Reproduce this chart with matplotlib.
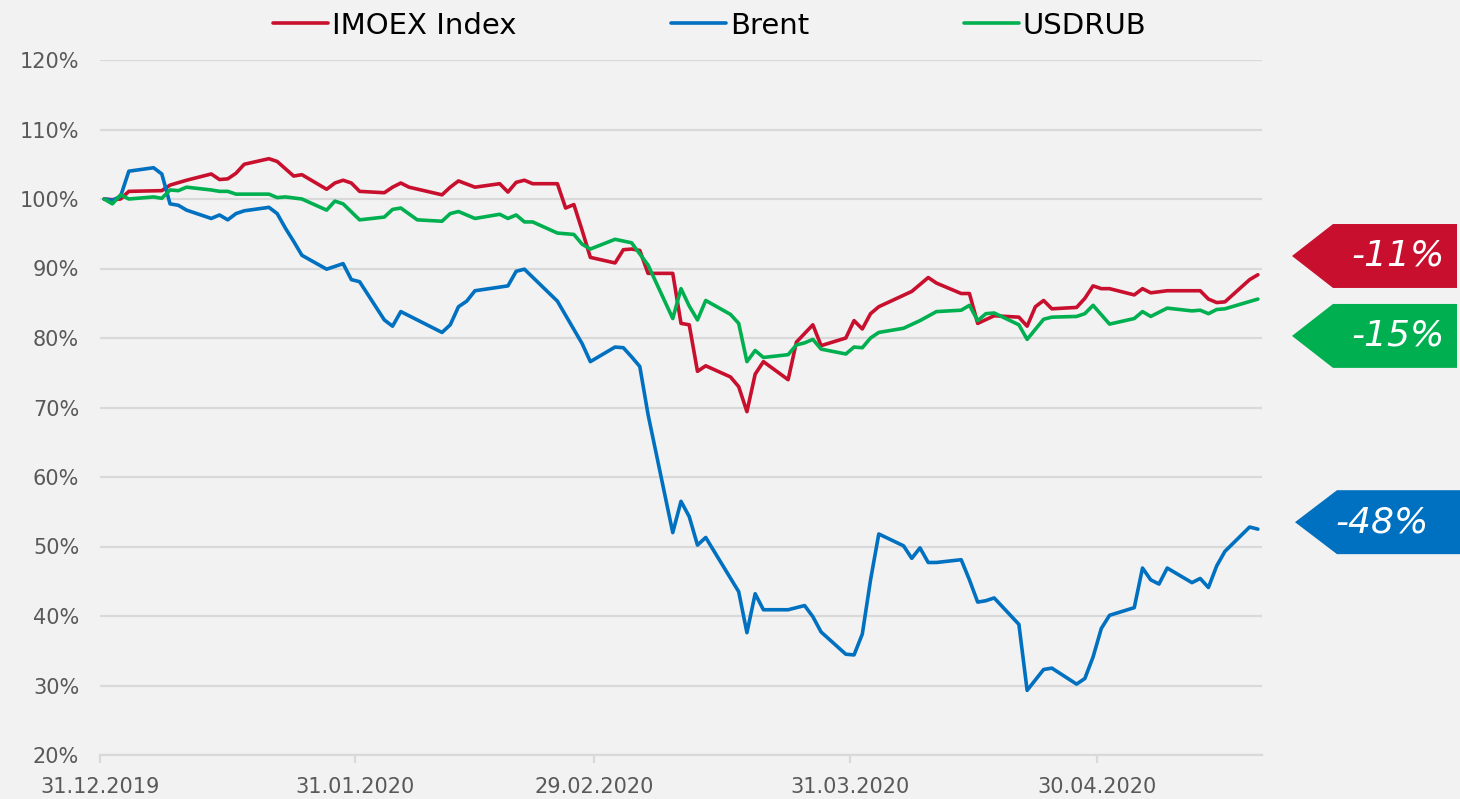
import matplotlib
matplotlib.use("Agg")
import matplotlib.pyplot as plt
import matplotlib.dates as mdates
from matplotlib.patches import Polygon
from matplotlib.transforms import blended_transform_factory
from matplotlib.ticker import FuncFormatter
import pandas as pd

# Data: days counted from 31.12.2019, values in % of the starting level
start = pd.Timestamp("2019-12-31")
end = pd.Timestamp("2020-05-20")
tick_dates = ["2019-12-31", "2020-01-31", "2020-02-29", "2020-03-31", "2020-04-30"]
y_ticks = [20, 30, 40, 50, 60, 70, 80, 90, 100, 110, 120]

imoex_days = [0, 1, 2, 3, 7, 8, 10, 13, 14, 15, 16, 17, 20, 21, 23, 24, 27, 28, 29, 30,
              31, 34, 35, 36, 37, 41, 42, 43, 45, 48, 49, 50, 51, 52, 55, 56, 57, 58, 59,
              62, 63, 64, 65, 66, 69, 70, 71, 72, 73, 76, 77, 78, 79, 80, 83, 84, 86, 87,
              90, 91, 92, 93, 94, 98, 100, 101, 104, 105, 106, 108, 111, 112, 113, 114,
              115, 118, 119, 120, 121, 122, 125, 126, 127, 129, 133, 134, 135, 136, 139, 140]
imoex_vals = [100.0, 99.9, 100.0, 101.1, 101.2, 102.0, 102.7, 103.6, 102.8, 102.9, 103.7,
              105.0, 105.8, 105.4, 103.3, 103.5, 101.4, 102.3, 102.7, 102.3, 101.1, 100.9,
              101.7, 102.3, 101.7, 100.6, 101.7, 102.6, 101.7, 102.2, 101.0, 102.4, 102.7,
              102.2, 102.2, 98.7, 99.2, 95.5, 91.6, 90.8, 92.7, 92.8, 92.6, 89.3, 89.3,
              82.1, 81.9, 75.2, 76.0, 74.4, 73.0, 69.4, 74.8, 76.6, 74.0, 79.4, 81.9, 78.9,
              80.0, 82.5, 81.3, 83.5, 84.5, 86.7, 88.7, 87.9, 86.4, 86.4, 82.1, 83.2, 83.0,
              81.7, 84.5, 85.4, 84.2, 84.4, 85.7, 87.5, 87.1, 87.1, 86.2, 87.1, 86.5, 86.8,
              86.8, 85.6, 85.1, 85.2, 88.4, 89.1]

brent_days = [0, 1, 2, 3, 6, 7, 8, 9, 10, 13, 14, 15, 16, 17, 20, 21, 22, 23, 24, 27, 29,
              30, 31, 34, 35, 36, 41, 42, 43, 44, 45, 49, 50, 51, 55, 58, 59, 62, 63, 64,
              65, 66, 69, 70, 71, 72, 73, 77, 78, 79, 80, 83, 85, 86, 87, 90, 91, 92, 93,
              94, 97, 98, 99, 100, 101, 104, 105, 106, 107, 108, 111, 112, 114, 115, 118,
              119, 120, 121, 122, 125, 126, 127, 128, 129, 132, 133, 134, 135, 136, 139, 140]
brent_vals = [100.0, 99.8, 100.4, 104.0, 104.5, 103.6, 99.3, 99.1, 98.4, 97.2, 97.7, 97.0,
              97.9, 98.3, 98.8, 97.9, 95.8, 93.9, 91.9, 89.9, 90.7, 88.4, 88.1, 82.6, 81.7,
              83.8, 80.8, 81.9, 84.5, 85.3, 86.8, 87.5, 89.6, 89.9, 85.3, 79.2, 76.6, 78.7,
              78.6, 77.3, 75.9, 69.0, 52.0, 56.5, 54.3, 50.2, 51.3, 43.5, 37.6, 43.2, 40.9,
              40.9, 41.5, 39.9, 37.7, 34.5, 34.4, 37.4, 45.2, 51.8, 50.1, 48.3, 49.8, 47.7,
              47.7, 48.1, 45.2, 42.0, 42.2, 42.6, 38.8, 29.3, 32.3, 32.5, 30.2, 31.0, 34.1,
              38.2, 40.1, 41.2, 46.9, 45.2, 44.6, 46.9, 44.8, 45.4, 44.1, 47.2, 49.3, 52.8,
              52.5]

usdrub_days = [0, 1, 2, 3, 6, 7, 8, 9, 10, 13, 14, 15, 16, 20, 21, 22, 24, 27, 28, 29, 31,
               34, 35, 36, 38, 41, 42, 43, 45, 47, 48, 49, 50, 51, 52, 55, 57, 58, 59, 62,
               64, 66, 69, 70, 71, 72, 73, 76, 77, 78, 79, 80, 83, 84, 85, 86, 87, 90, 91,
               92, 93, 94, 97, 99, 101, 104, 105, 106, 107, 108, 111, 112, 114, 115, 118,
               119, 120, 122, 125, 126, 127, 129, 132, 133, 134, 135, 136, 140]
usdrub_vals = [100.0, 99.3, 100.6, 100.0, 100.3, 100.1, 101.3, 101.2, 101.7, 101.3, 101.1,
               101.1, 100.7, 100.7, 100.2, 100.3, 100.0, 98.4, 99.7, 99.3, 97.0, 97.4, 98.5,
               98.7, 97.0, 96.8, 97.9, 98.2, 97.2, 97.6, 97.8, 97.2, 97.7, 96.7, 96.7, 95.1,
               94.9, 93.5, 92.8, 94.2, 93.7, 90.5, 82.8, 87.1, 84.6, 82.6, 85.4, 83.4, 82.1,
               76.6, 78.2, 77.2, 77.6, 79.0, 79.3, 79.8, 78.4, 77.7, 78.7, 78.6, 80.0, 80.8,
               81.4, 82.5, 83.8, 84.0, 84.7, 82.5, 83.5, 83.6, 81.9, 79.8, 82.7, 83.0, 83.1,
               83.5, 84.7, 82.0, 82.8, 83.8, 83.1, 84.3, 83.9, 84.0, 83.5, 84.1, 84.2, 85.6]

series_names = ["IMOEX Index", "Brent", "USDRUB"]
tag_texts = ["-11%", "-15%", "-48%"]

RED, BLUE, GREEN = "#C8102E", "#0070C0", "#00B050"
BG = "#F2F2F2"
GRID = "#D9D9D9"


def to_dates(days):
    # Excel date axis puts each day in the middle of its slot
    return start + pd.to_timedelta(days, unit="D") + pd.Timedelta(hours=12)


fig = plt.figure(figsize=(14.6, 7.99), dpi=100, facecolor=BG)
ax = fig.add_axes([100 / 1460, 44 / 799, 1162 / 1460, 695 / 799], facecolor=BG)

ax.plot(to_dates(imoex_days), imoex_vals, color=RED, lw=2.6, label=series_names[0],
        solid_joinstyle="round", solid_capstyle="round", zorder=3)
ax.plot(to_dates(brent_days), brent_vals, color=BLUE, lw=2.6, label=series_names[1],
        solid_joinstyle="round", solid_capstyle="round", zorder=3)
ax.plot(to_dates(usdrub_days), usdrub_vals, color=GREEN, lw=2.6, label=series_names[2],
        solid_joinstyle="round", solid_capstyle="round", zorder=3)

ax.set_xlim(start, end)
ax.set_ylim(20, 120)
ax.set_yticks(y_ticks)
ax.yaxis.set_major_formatter(FuncFormatter(lambda v, p: f"{v:.0f}%"))
ax.set_xticks(pd.to_datetime(tick_dates))
ax.xaxis.set_major_formatter(mdates.DateFormatter("%d.%m.%Y"))

ax.grid(axis="y", color=GRID, lw=1.6, zorder=0)
for s in ["top", "right", "left"]:
    ax.spines[s].set_visible(False)
ax.spines["bottom"].set_color(GRID)
ax.spines["bottom"].set_linewidth(1.6)
ax.tick_params(axis="y", length=0, pad=15, labelsize=15, labelcolor="#595959")
ax.tick_params(axis="x", length=6, width=1.6, color=GRID, pad=10, labelsize=15,
               labelcolor="#595959")

fig.legend(loc="center", bbox_to_anchor=(0.486, 0.968), ncol=3, frameon=False,
           fontsize=21, handlelength=1.9, handletextpad=0.12, columnspacing=5.3)

# arrow-shaped tags at the right edge
trans = blended_transform_factory(fig.transFigure, ax.transData)
tags = [(91.8, RED, 1292, 1333, 1457, 1398),
        (80.3, GREEN, 1292, 1333, 1457, 1398),
        (53.5, BLUE, 1295, 1337, 1462, 1382)]
half = 4.6
for (yc, col, tip, body, right, tx), txt in zip(tags, tag_texts):
    pts = [(tip / 1460, yc), (body / 1460, yc + half), (right / 1460, yc + half),
           (right / 1460, yc - half), (body / 1460, yc - half)]
    ax.add_patch(Polygon(pts, closed=True, transform=trans, facecolor=col,
                         edgecolor="none", clip_on=False, zorder=4))
    ax.text(tx / 1460, yc, txt, transform=trans, color="white", fontsize=26,
            fontstyle="italic", ha="center", va="center", zorder=5, clip_on=False)

fig.savefig("out.png", dpi=100, facecolor=BG)
